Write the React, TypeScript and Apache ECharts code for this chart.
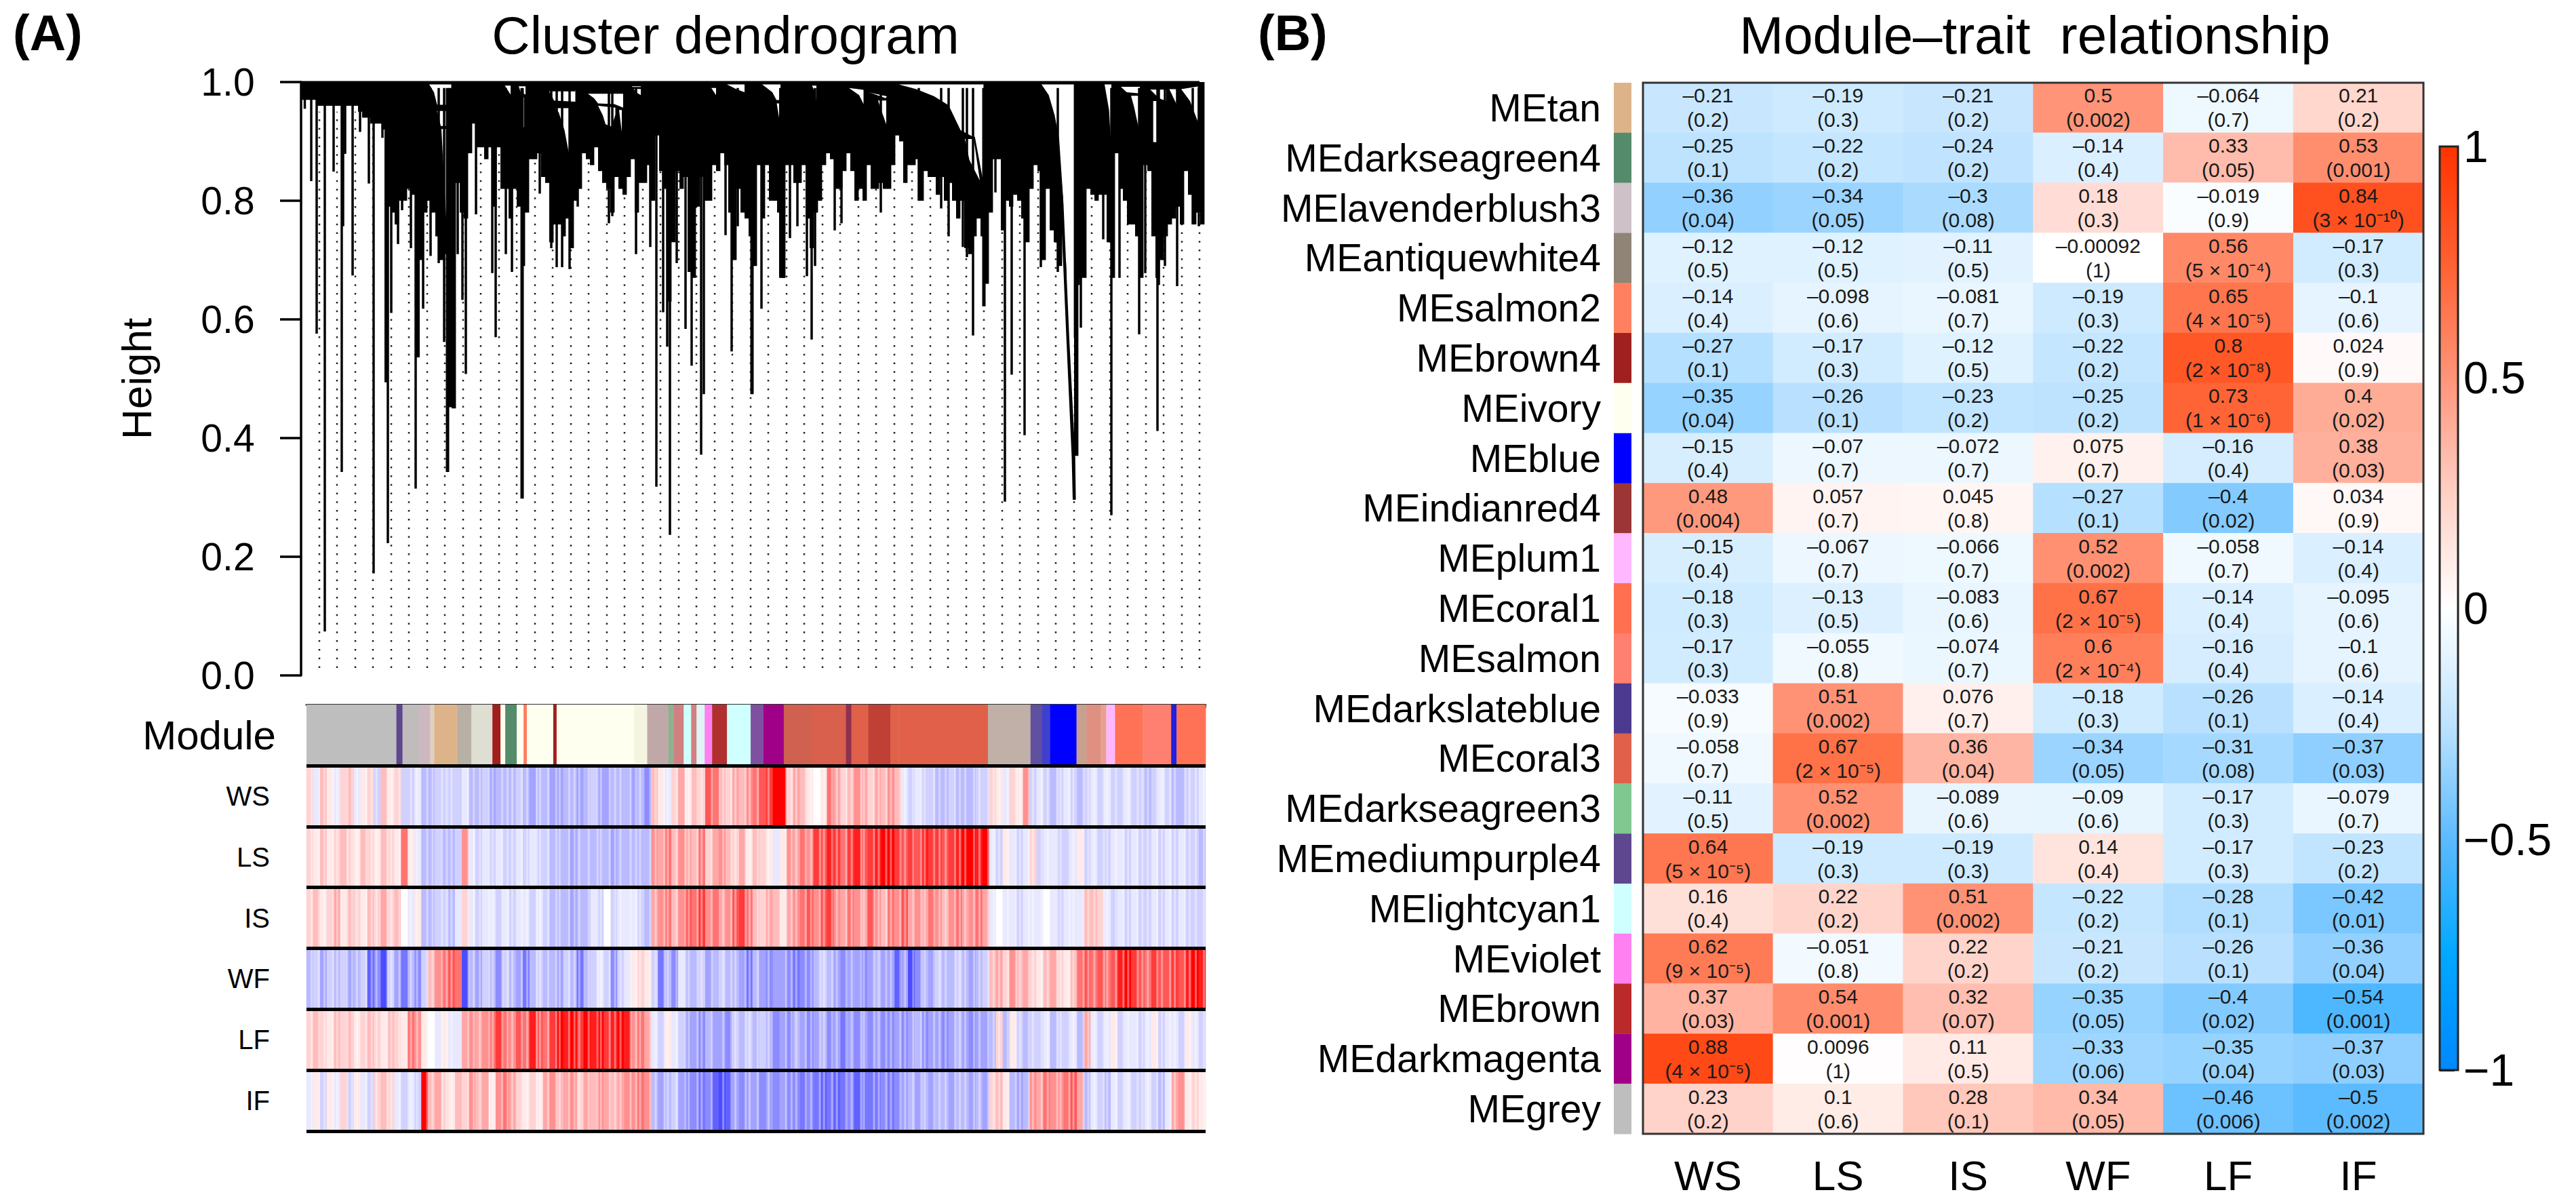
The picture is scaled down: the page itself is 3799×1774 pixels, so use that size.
import React, { useEffect, useRef } from "react";
import * as echarts from "echarts";

const FONT = "'Liberation Sans', Arial, sans-serif";

const traits = ["WS", "LS", "IS", "WF", "LF", "IF"];
const moduleNames = ["MEtan", "MEdarkseagreen4", "MElavenderblush3", "MEantiquewhite4", "MEsalmon2", "MEbrown4", "MEivory", "MEblue", "MEindianred4", "MEplum1", "MEcoral1", "MEsalmon", "MEdarkslateblue", "MEcoral3", "MEdarkseagreen3", "MEmediumpurple4", "MElightcyan1", "MEviolet", "MEbrown", "MEdarkmagenta", "MEgrey"];
const moduleSwatches = ["#DDB48A", "#548B6B", "#CFC1C8", "#8F8476", "#FF8060", "#A02020", "#FFFFF0", "#0000FF", "#9C3535", "#FFB8FF", "#FF7050", "#FF8070", "#4B3A90", "#E0604A", "#80C890", "#5F478F", "#CFFFFF", "#FF80F0", "#BB2A2A", "#A00088", "#BEBEBE"];

const corr = [
  [-0.21, -0.19, -0.21, 0.5, -0.064, 0.21],
  [-0.25, -0.22, -0.24, -0.14, 0.33, 0.53],
  [-0.36, -0.34, -0.3, 0.18, -0.019, 0.84],
  [-0.12, -0.12, -0.11, -0.00092, 0.56, -0.17],
  [-0.14, -0.098, -0.081, -0.19, 0.65, -0.1],
  [-0.27, -0.17, -0.12, -0.22, 0.8, 0.024],
  [-0.35, -0.26, -0.23, -0.25, 0.73, 0.4],
  [-0.15, -0.07, -0.072, 0.075, -0.16, 0.38],
  [0.48, 0.057, 0.045, -0.27, -0.4, 0.034],
  [-0.15, -0.067, -0.066, 0.52, -0.058, -0.14],
  [-0.18, -0.13, -0.083, 0.67, -0.14, -0.095],
  [-0.17, -0.055, -0.074, 0.6, -0.16, -0.1],
  [-0.033, 0.51, 0.076, -0.18, -0.26, -0.14],
  [-0.058, 0.67, 0.36, -0.34, -0.31, -0.37],
  [-0.11, 0.52, -0.089, -0.09, -0.17, -0.079],
  [0.64, -0.19, -0.19, 0.14, -0.17, -0.23],
  [0.16, 0.22, 0.51, -0.22, -0.28, -0.42],
  [0.62, -0.051, 0.22, -0.21, -0.26, -0.36],
  [0.37, 0.54, 0.32, -0.35, -0.4, -0.54],
  [0.88, 0.0096, 0.11, -0.33, -0.35, -0.37],
  [0.23, 0.1, 0.28, 0.34, -0.46, -0.5],
];
const pvals = [
  ["0.2", "0.3", "0.2", "0.002", "0.7", "0.2"],
  ["0.1", "0.2", "0.2", "0.4", "0.05", "0.001"],
  ["0.04", "0.05", "0.08", "0.3", "0.9", "3 × 10⁻¹⁰"],
  ["0.5", "0.5", "0.5", "1", "5 × 10⁻⁴", "0.3"],
  ["0.4", "0.6", "0.7", "0.3", "4 × 10⁻⁵", "0.6"],
  ["0.1", "0.3", "0.5", "0.2", "2 × 10⁻⁸", "0.9"],
  ["0.04", "0.1", "0.2", "0.2", "1 × 10⁻⁶", "0.02"],
  ["0.4", "0.7", "0.7", "0.7", "0.4", "0.03"],
  ["0.004", "0.7", "0.8", "0.1", "0.02", "0.9"],
  ["0.4", "0.7", "0.7", "0.002", "0.7", "0.4"],
  ["0.3", "0.5", "0.6", "2 × 10⁻⁵", "0.4", "0.6"],
  ["0.3", "0.8", "0.7", "2 × 10⁻⁴", "0.4", "0.6"],
  ["0.9", "0.002", "0.7", "0.3", "0.1", "0.4"],
  ["0.7", "2 × 10⁻⁵", "0.04", "0.05", "0.08", "0.03"],
  ["0.5", "0.002", "0.6", "0.6", "0.3", "0.7"],
  ["5 × 10⁻⁵", "0.3", "0.3", "0.4", "0.3", "0.2"],
  ["0.4", "0.2", "0.002", "0.2", "0.1", "0.01"],
  ["9 × 10⁻⁵", "0.8", "0.2", "0.2", "0.1", "0.04"],
  ["0.03", "0.001", "0.07", "0.05", "0.02", "0.001"],
  ["4 × 10⁻⁵", "1", "0.5", "0.06", "0.04", "0.03"],
  ["0.2", "0.6", "0.1", "0.05", "0.006", "0.002"],
];

// Trait stripes, tenths of a unit, one value per stripe
const stripWS = [2,-1,3,1,-1,2,3,-1,1,2,-2,3,1,2,-2,-2,-1,-3,-3,-2,-2,-2,-2,-1,-3,-3,-2,-4,-3,-3,-3,-2,-3,-4,-3,-3,-4,-4,-3,-3,-4,-3,-2,-4,-4,-3,-3,-3,-4,-3,-5,3,1,-1,2,4,1,3,2,7,6,3,2,4,3,5,6,7,8,10,10,2,4,3,1,0,1,6,4,2,3,5,4,2,4,3,5,3,-1,-2,-1,-2,-2,-3,-3,-2,-3,-3,-3,-2,-2,2,1,-1,2,1,5,-2,-1,-2,-3,-2,-1,-2,-3,-2,-1,-2,-1,-2,-2,-1,-2,-2,-3,-2,-1,-2,-3,-3,-2,-2,-1];
const stripLS = [2,1,3,1,2,3,2,1,3,2,1,3,2,1,6,1,-1,-3,-3,-2,-3,-3,-2,5,-1,-2,-1,-2,-1,-2,-2,-1,-2,-1,-2,-2,-3,-3,-3,-4,-3,-3,-3,-3,-3,-4,-3,-3,-3,-3,-3,5,4,6,3,5,4,3,6,2,4,5,3,2,4,1,3,2,1,-1,1,5,4,6,5,8,7,9,8,6,8,9,7,8,9,10,10,8,7,8,7,9,8,8,7,8,9,10,10,9,10,-1,-2,1,-1,-2,-1,2,-2,-1,-1,-2,-2,-1,1,-2,-1,-2,-2,-1,-1,-2,-1,-2,-2,-1,-2,-1,-2,-1,-2,-2,-3];
const stripIS = [2,3,1,2,4,1,3,2,1,3,2,4,2,3,0,-1,1,-3,-3,-2,-2,-3,-1,2,-1,-2,-1,-1,-2,-1,-2,-1,-1,-2,-1,-2,-3,-3,-3,-4,-3,-3,-1,-2,0,-2,-1,-1,-1,-2,-3,4,5,6,3,5,7,6,8,5,6,4,5,7,8,6,3,2,4,3,1,4,5,6,7,5,7,8,5,4,6,5,4,7,5,3,6,5,7,4,5,4,6,5,3,5,6,4,5,6,4,-1,0,-1,-1,-2,-1,-1,-1,0,-1,-2,-1,-1,-1,3,3,2,-1,-2,-1,-2,-1,-2,-2,-1,-2,-1,-2,-1,-2,-2,-2];
const stripWF = [-3,-2,-4,-2,-3,-2,-4,-3,-2,-7,-5,-8,-2,-4,-6,-3,-5,-2,3,5,6,7,6,-8,-3,-4,-2,-3,-5,-2,-3,-4,-6,-3,-2,-3,-3,-4,-2,-3,-6,-3,-2,-1,-2,-5,-2,-1,1,2,1,-2,-6,-3,-5,-1,-3,-3,-2,-4,-3,-2,-3,-3,-4,-6,-3,-4,-5,-4,-4,-5,-6,-5,-5,-3,-2,-3,-4,-5,-4,-4,-5,-4,-3,-4,-4,-7,-4,-8,-5,-3,-4,-2,-3,-3,-2,-3,-4,-3,-2,3,4,2,5,3,4,2,1,3,4,2,1,3,6,7,6,7,6,7,9,10,8,7,6,8,7,7,8,7,9,10,9];
const stripLF = [2,3,2,1,3,2,3,1,2,3,2,1,3,2,1,6,5,1,0,-1,1,-1,-1,4,5,4,5,6,8,6,5,7,6,9,7,6,8,10,9,10,8,10,9,10,8,9,10,9,5,6,4,-1,-2,1,-1,-2,-4,-4,-5,-3,-4,-4,-5,-2,-3,-2,-3,-2,-3,-5,-4,-5,-3,-4,-5,-4,-3,-5,-4,-6,-4,-5,-4,-5,-4,-5,-5,-4,-5,-4,-3,-5,-4,-4,-5,-4,-3,-4,-5,-4,-4,-3,2,-3,1,-2,-3,-2,-2,-1,-3,-2,-2,-1,-3,4,-1,-2,-1,1,-2,-1,-1,-2,-1,1,-2,-1,-1,-2,1,-1,-2];
const stripIF = [-1,1,-2,1,-1,2,-2,1,-1,-2,2,3,2,-1,-2,-1,-2,10,3,4,2,1,3,2,5,3,4,1,5,6,4,2,1,2,1,4,5,3,4,5,2,4,3,5,4,3,4,5,5,6,5,-3,-4,-3,-2,-4,-5,-5,-6,-5,-7,-8,-7,-4,-5,-4,-4,-5,-4,-5,-4,-5,-5,-6,-5,-6,-7,-6,-7,-6,-5,-7,-6,-6,-6,-5,-6,-5,-4,-3,-4,-3,-4,-3,-3,-4,-3,-3,-4,-3,-4,2,3,1,-3,-4,-3,5,4,6,5,5,6,7,4,-3,-1,-2,-3,-1,-2,-1,-2,-2,-1,-2,-3,-1,4,5,1,2,1];
const traitStrips = [stripWS, stripLS, stripIS, stripWF, stripLF, stripIF];
// Thin pale genes running across the stripes
const paleLines = [0.6,1.7,2.5,3.8,4.4,5.9,6.6,7.3,8.7,9.5,10.2,11.8,12.4,13.6,15.3,16.2,17.7,18.5,19.9,20.6,21.3,23.8,24.6,25.5,26.9,27.4,28.8,29.6,30.3,31.7,32.5,33.9,34.4,35.6,36.8,37.3,38.7,39.5,40.2,41.6,42.9,43.4,44.7,45.5,46.3,47.8,48.6,49.2,50.7,51.5,52.8,53.3,54.6,55.9,56.4,57.7,58.3,59.8,61.5,62.7,63.3,64.8,65.4,66.6,68.2,70.8,71.6,72.3,73.7,74.5,75.8,76.4,77.6,78.3,79.7,80.5,81.9,82.3,83.8,84.5,85.6,86.3,87.7,88.4,89.6,90.8,91.3,92.7,93.5,94.4,95.8,96.5,97.3,98.6,99.4,100.7,101.5,102.3,103.6,104.8,105.4,106.7,107.3,108.6,109.5,110.9,111.4,112.7,113.3,114.8,115.5,116.4,117.8,118.3,119.6,120.7,121.4,122.8,123.5,124.3,125.7,126.4,127.6,128.3,129.8,130.5,131.4,132.6];

// Module colour blocks along the gene order
const moduleStarts = [0,13.3,14.2,16.8,18.3,18.9,22.3,24.4,27.5,28.7,29.4,31.1,32.1,32.6,36.5,37,48.5,50.4,53.5,54.3,55.8,56.9,57.7,58.9,60,62.2,65.7,67.6,70.6,74.8,79.8,80.6,83.1,86.4,87.6,100.8,107.1,108.8,110,113.9,115.4,117.5,118.3,119.6,123.7,127.9,128.7];
const moduleEnd = 133;
const moduleColors = ["#BEBEBE","#5D478F","#C0BCBC","#CDB8C0","#E0D0C0","#DDB48A","#B8AFA5","#DEDED2","#A02020","#FFFFF0","#548B6B","#FFFFF0","#FF8060","#FFFFF0","#A02020","#FFFFF0","#F4F4E0","#C0A8A8","#90B090","#D08080","#CFFFFF","#D08080","#DFF4F4","#FF80F0","#B03030","#CFFFFF","#8050A0","#A00088","#D06050","#D8604C","#903050","#E0604A","#C04035","#E06048","#E0604A","#C0B0A8","#6050A0","#4040D0","#0000FF","#C8A090","#E09080","#E8A090","#FFB8FF","#FF7256","#FF8070","#2020E0","#FF7256"];

// Dendrogram: lower edge of the dense mass, height in percent, one value per 6 ranks
const dendroBottoms = [97,97,97,97,96,96,96,96,96,96,96,96,96,96,95,94,94,93,93,93,92,79,78,76,80,80,82,81,74,70,78,80,78,74,70,71,57,45,83,78,77,88,93,89,89,87,89,79,89,82,82,77,82,79,69,78,87,87,88,84,83,73,76,76,74,77,72,80,82,88,87,86,89,85,83,82,78,84,82,81,84,87,78,83,83,86,80,91,85,82,63,73,85,82,84,68,67,79,84,80,80,86,85,88,86,78,70,82,78,77,74,69,86,77,86,80,80,78,67,86,86,83,83,86,77,72,78,80,86,88,87,82,82,85,88,85,80,82,80,86,82,82,83,82,82,86,91,90,83,86,86,87,80,85,84,84,81,84,80,83,80,77,80,72,71,74,77,74,66,78,87,87,75,80,79,81,80,77,73,82,86,85,70,82,75,73,69,80,67,57,37,67,67,82,81,80,81,81,73,67,88,82,80,76,76,74,67,86,85,74,67,70,74,76,77,79,76,85,81,76,78,76];

// Single long branches: rank, lowest height, optional width
const dendroSpikes = [[5.5,.955],[15,.833],[23,.576],[35,.074],[48,.849],[60,.343],[62,.757],[65,.879],[76,.674],[87,.916],[100,.829],[107,.172],[120,.906],[126,.494,6],[128,.223],[133,.611],[143,.727],[149,.784],[162,.72],[169,.315],[172,.536,6],[180,.618],[191,.707],[203,.695],[216,.343,5],[211,.562],[221,.452,7],[231,.71],[238,.633],[243,.508],[258,.777],[282,.678],[287,.57],[302,.71],[311,.68],[326,.298,5],[352,.812],[369,.72],[377,.688],[385,.688],[396,.685],[408,.79],[454,.762],[459,.774],[494,.71],[515,.722],[524,.318],[534,.612],[540,.554],[544,.237],[554,.695],[567,.584],[576,.522],[590,.372],[594,.474],[626,.742],[635,.546],[644,.757],[665,.474,5],[679,.618],[709,.67,8],[721,.737],[732,.757],[746,.673],[753,.566],[758,.69],[787,.75],[797,.762],[855,.78],[911,.8],[944,.787],[955,.74],[976,.722],[982,.705],[991,.573],[1007,.622,5],[1024,.814],[1038,.293],[1048,.507],[1067,.405],[1091,.688],[1116,.68],[1146,.658,5],[1150,.586],[1183,.735],[1195,.27],[1207,.67],[1236,.575],[1245,.678],[1263,.412],[1265,.658],[1274,.69],[1292,.656],[1315,.76],[1324,.757]];

// Gaps between branches at the top of the tree: outline as rank, height %
const dendroGaps = [
  [[189,99.6],[221.5,99.6],[221.5,96],[201,96],[196,98.3]],
  [[200,95.3],[221.5,95.3],[221.5,92.6],[206,92.6],[203,94.1]],
  [[207,92.1],[221.5,92.1],[221.5,64.1],[220,64.1]],
  [[300.5,99.4],[309,99.4],[309,97.9]],
  [[321,99.3],[331,99.3],[331,97.9],[324,98.3]],
  [[324,97.4],[329,97.4],[329,92.4],[326.5,92.4]],
  [[365,98.6],[404.5,98.6],[404.5,96.7],[373,96.9],[369,97.8]],
  [[374.6,95.6],[395,95.6],[396,87.4],[388.5,91.9],[380,94.9]],
  [[421,98.2],[475,98.2],[475,95.7],[462,96.3],[438,96.4],[432,97.3]],
  [[438,96],[463.5,95.7],[463.5,94.5],[458,92.5],[449,92.9],[445,94.4]],
  [[469,95.3],[473,95.3],[473,91.6]],
  [[488,99.3],[501,99.3],[501,97.8],[494,98.3]],
  [[628,99.6],[654,99.6],[654,98.3],[642,98.8]],
  [[605,99],[612,99],[612,97.8]],
  [[680,99.6],[707,99.6],[707,96.8],[701.5,96.9],[695,98.3]],
  [[701.5,96.4],[708,96.4],[707,92.6]],
  [[753.6,99.4],[760,99.4],[760,96.8],[758,98.3]],
  [[808,99],[829.5,98.7],[829.5,96.3],[823,97.8]],
  [[836,98.3],[864,97.6],[862,97.3],[842.5,98.1]],
  [[851,96.9],[863,96.9],[863,92.9],[855.5,95.3]],
  [[881.5,99.6],[1006.4,99.6],[1006.4,83],[994,90.6],[972.6,91.9],[955,96.1],[933.6,97.6],[907.5,98.8]],
  [[979,90.4],[992,90.4],[1001,83.4],[985.6,86.9]],
  [[1092,99.6],[1139.6,99.6],[1139.6,36.8],[1133,56.7],[1124.4,79.5],[1118,90.4],[1111.4,94.4],[1102.7,97.8]],
  [[1185,99.6],[1195,99.6],[1195,88.4],[1191.6,95.3]],
  [[1209,99.2],[1237,99.2],[1237,98.1],[1217.6,98.3]],
  [[1251,98.9],[1276,98.9],[1276,96.8],[1265,97.3]],
  [[1256.7,96.8],[1264.5,96.8],[1264.5,89.6],[1256.7,89.9]],
  [[1224,97.7],[1235,97.7],[1235,92.4],[1228.5,95.8]],
  [[1280.5,98.8],[1291,98.8],[1291,96.3]],
  [[1298,98.8],[1324,99.3],[1324,92.9],[1311,96.8]],
];
const dendroWedges = [
  [[1115.7,91.4],[1124.4,79.5],[1133,56.7],[1141.7,36.8],[1142.6,29.6],[1138,29.6],[1136.5,36.8],[1128.7,56.7]],
];
// Merge lines: rank, height %, rank, height %
const dendroMerges = [[0,100,1325,100],[200,96,221.5,96],[200,95.3,221.5,95.3],[206,92.4,221.5,92.4],[365,98.6,404.5,98.6],[382,99,501,99],[421,98.2,475,98.2],[701,96.8,707,96.8],[979,90.6,994,90.6],[1256.7,89.7,1264.5,89.7],[1251,98.9,1276,98.9],[1324,99.4,1324,92.9]];
const guideRanks = [27,53,80,106,133,159,186,212,239,265,292,318,345,371,398,424,451,477,504,530,557,583,610,636,663,689,716,742,769,795,822,848,875,901,928,954,981,1007,1034,1060,1087,1113,1140,1166,1193,1219,1246,1272,1299,1325];

const heatColors = ["#0088FF", "#00A8FF", "#5CBAFF", "#BDE3FF", "#FFFFFF", "#FFCFC4", "#FF9478", "#FF6030", "#FF3300"];
const stripColors = ["#2020FF", "#8C8CFF", "#FFFFFF", "#FF9090", "#FF0000"];

const minusText = (v: number) => String(v).replace("-", "–");
const axisOff = { show: false };

function buildOption() {
  const heatData: number[][] = [];
  corr.forEach((row, y) => row.forEach((v, x) => heatData.push([x, y, v])));
  const stripData: number[][] = [];
  traitStrips.forEach((row, y) => row.forEach((v, x) => stripData.push([x, y, v / 10])));
  const stripIdx = traitStrips[0].map((_, i) => String(i));

  return {
    animation: false,
    backgroundColor: "#fff",
    textStyle: { fontFamily: FONT, color: "#000" },
    grid: [
      { left: 444, top: 121, width: 1325, height: 875 },
      { left: 452, top: 1039, width: 1326, height: 90 },
      { left: 452, top: 1129, width: 1326, height: 539 },
      { left: 2380, top: 122, width: 26, height: 1550 },
      { left: 2423, top: 122, width: 1151, height: 1550, show: true, z: 5, borderColor: "#333", borderWidth: 3, backgroundColor: "transparent" },
      { left: 3598, top: 216, width: 27, height: 1362, show: true, z: 5, borderColor: "#222", borderWidth: 3, backgroundColor: "transparent" },
    ],
    xAxis: [
      { gridIndex: 0, type: "value", min: 0, max: 1325, ...axisOff },
      { gridIndex: 1, type: "value", min: 0, max: 133, position: "top", axisLine: { show: true, lineStyle: { color: "#333", width: 3 } }, axisTick: axisOff, axisLabel: axisOff, splitLine: axisOff },
      { gridIndex: 2, type: "category", data: stripIdx, ...axisOff },
      { gridIndex: 3, type: "category", data: ["module"], ...axisOff },
      { gridIndex: 4, type: "category", data: traits, axisLine: axisOff, axisTick: axisOff, axisLabel: { interval: 0, fontSize: 62, margin: 30, color: "#000", fontFamily: FONT } },
      { gridIndex: 5, type: "value", min: 0, max: 1, ...axisOff },
    ],
    yAxis: [
      { gridIndex: 0, type: "value", min: 0, max: 1, interval: 0.2, offset: 51.4, axisLine: { show: true, lineStyle: { color: "#000", width: 3.5 } }, axisTick: { show: true, length: 31, lineStyle: { color: "#000", width: 3.5 } }, axisLabel: { fontSize: 57, margin: 17, color: "#000", fontFamily: FONT, formatter: (v: number) => v.toFixed(1) }, splitLine: axisOff,
        name: "Height", nameLocation: "middle", nameGap: 160, nameRotate: 90, nameTextStyle: { fontSize: 62, color: "#000", fontFamily: FONT } },
      { gridIndex: 1, type: "category", data: ["Module"], axisLine: axisOff, axisTick: axisOff, axisLabel: { interval: 0, fontSize: 60, margin: 45, color: "#000", fontFamily: FONT } },
      { gridIndex: 2, type: "category", data: traits, inverse: true, z: 10, axisLine: axisOff, axisTick: axisOff, axisLabel: { interval: 0, fontSize: 40, margin: 54, color: "#000", fontFamily: FONT }, splitLine: { show: true, lineStyle: { color: "#000", width: 5 } } },
      { gridIndex: 3, type: "category", data: moduleNames, inverse: true, axisLine: axisOff, axisTick: axisOff, axisLabel: { interval: 0, fontSize: 57, margin: 19, color: "#000", fontFamily: FONT } },
      { gridIndex: 4, type: "category", data: moduleNames, inverse: true, ...axisOff },
      { gridIndex: 5, type: "value", min: -1, max: 1, interval: 0.5, position: "right", axisLine: axisOff, axisTick: { show: true, length: 22, lineStyle: { color: "#000", width: 3 } }, axisLabel: { fontSize: 66, margin: 8, color: "#000", fontFamily: FONT, formatter: (v: number) => (v < 0 ? "−" + Math.abs(v) : String(v)) }, splitLine: axisOff },
    ],
    visualMap: [
      { show: false, type: "continuous", seriesIndex: 9, dimension: 2, min: -1, max: 1, inRange: { color: heatColors } },
      { show: false, type: "continuous", seriesIndex: 7, dimension: 2, min: -1, max: 1, inRange: { color: stripColors } },
    ],
    series: [
      // 0 guides
      { type: "custom", xAxisIndex: 0, yAxisIndex: 0, clip: false, data: guideRanks.map((r) => [r]), silent: true,
        renderItem: (_p: any, api: any) => {
          const a = api.coord([api.value(0), 0.0126]);
          const b = api.coord([api.value(0), 0.95]);
          const c = api.coord([api.value(0) + 9, -0.049]);
          return { type: "group", children: [
            { type: "line", shape: { x1: a[0], y1: a[1], x2: b[0], y2: b[1] }, style: { stroke: "#222", lineWidth: 2.5, lineDash: [2.5, 10.3] } },
            { type: "line", shape: { x1: c[0], y1: c[1], x2: c[0], y2: c[1] + 5 }, style: { stroke: "#444", lineWidth: 2 } },
          ] };
        } },
      // 1 mass
      { type: "custom", xAxisIndex: 0, yAxisIndex: 0, data: dendroBottoms.map((b, i) => [i * 6, b / 100]), silent: true,
        renderItem: (_p: any, api: any) => {
          const a = api.coord([api.value(0), 1]);
          const b = api.coord([api.value(0) + 6, api.value(1)]);
          return { type: "rect", shape: { x: a[0], y: a[1], width: b[0] - a[0] + 0.4, height: b[1] - a[1] }, style: { fill: "#000" } };
        } },
      // 2 gaps
      { type: "custom", xAxisIndex: 0, yAxisIndex: 0, data: dendroGaps.map((_, i) => [dendroGaps[i][0][0], dendroGaps[i][0][1] / 100]), silent: true,
        renderItem: (p: any, api: any) => ({ type: "polygon", shape: { points: dendroGaps[p.dataIndex].map((q) => api.coord([q[0], q[1] / 100])) }, style: { fill: "#fff" } }) },
      // 3 wedges
      { type: "custom", xAxisIndex: 0, yAxisIndex: 0, data: dendroWedges.map((w) => [w[0][0], w[0][1] / 100]), silent: true,
        renderItem: (p: any, api: any) => ({ type: "polygon", shape: { points: dendroWedges[p.dataIndex].map((q) => api.coord([q[0], q[1] / 100])) }, style: { fill: "#000" } }) },
      // 4 spikes
      { type: "custom", xAxisIndex: 0, yAxisIndex: 0, data: dendroSpikes.map((s) => [s[0], s[1], s[2] || 3.5]), silent: true,
        renderItem: (_p: any, api: any) => {
          const a = api.coord([api.value(0), 0.99]);
          const b = api.coord([api.value(0), api.value(1)]);
          return { type: "line", shape: { x1: a[0], y1: a[1], x2: b[0], y2: b[1] }, style: { stroke: "#000", lineWidth: api.value(2) } };
        } },
      // 5 merges
      { type: "custom", xAxisIndex: 0, yAxisIndex: 0, clip: false, data: dendroMerges, silent: true,
        renderItem: (_p: any, api: any) => {
          const a = api.coord([api.value(0), api.value(1) / 100]);
          const b = api.coord([api.value(2), api.value(3) / 100]);
          return { type: "line", shape: { x1: a[0], y1: a[1], x2: b[0], y2: b[1] }, style: { stroke: "#000", lineWidth: 3 } };
        } },
      // 6 module strip
      { type: "custom", xAxisIndex: 1, yAxisIndex: 1, data: moduleStarts.map((s, i) => [s, moduleStarts[i + 1] ?? moduleEnd, 0]), silent: true,
        renderItem: (p: any, api: any) => {
          const a = api.coord([api.value(0), 0]);
          const b = api.coord([api.value(1), 0]);
          const size = api.size([0, 1]);
          return { type: "rect", shape: { x: a[0], y: a[1] - size[1] / 2, width: b[0] - a[0] + 0.4, height: size[1] }, style: { fill: moduleColors[p.dataIndex] } };
        } },
      // 7 trait strips
      { type: "heatmap", xAxisIndex: 2, yAxisIndex: 2, data: stripData, silent: true, progressive: 0 },
      // 8 side swatches
      { type: "custom", xAxisIndex: 3, yAxisIndex: 3, data: moduleNames.map((_, y) => [0, y]), silent: true,
        renderItem: (p: any, api: any) => {
          const c = api.coord([api.value(0), api.value(1)]);
          const size = api.size([1, 1]);
          return { type: "rect", shape: { x: c[0] - size[0] / 2, y: c[1] - size[1] / 2, width: size[0], height: size[1] + 0.4 }, style: { fill: moduleSwatches[p.dataIndex] } };
        } },
      // 9 correlation
      { type: "heatmap", xAxisIndex: 4, yAxisIndex: 4, data: heatData, silent: true, progressive: 0,
        label: { show: true, fontSize: 30, lineHeight: 36, color: "#1a1a1a", fontFamily: FONT, formatter: (p: any) => minusText(p.value[2]) + "\n(" + pvals[p.value[1]][p.value[0]] + ")" } },
      // 10 colour bar
      { type: "custom", xAxisIndex: 5, yAxisIndex: 5, data: [[0, -1]], silent: true,
        renderItem: (_p: any, api: any) => {
          const a = api.coord([0, 1]);
          const b = api.coord([1, -1]);
          return { type: "rect", shape: { x: a[0], y: a[1], width: b[0] - a[0], height: b[1] - a[1] }, style: {
            fill: new echarts.graphic.LinearGradient(0, 0, 0, 1, heatColors.slice().reverse().map((c, i, arr) => ({ offset: i / (arr.length - 1), color: c }))) } };
        } },
      // 11 pale lines across the trait strips
      { type: "custom", xAxisIndex: 1, yAxisIndex: 1, clip: false, data: paleLines.map((x) => [x, 0]), silent: true,
        renderItem: (_p: any, api: any) => {
          const c = api.coord([api.value(0), 0]);
          return { type: "rect", shape: { x: c[0], y: c[1] + 45, width: 3, height: 539 }, style: { fill: "#fff", opacity: 0.38 } };
        } },
    ],
    graphic: [
      { type: "text", x: 1070, y: 91, style: { text: "Cluster dendrogram", font: `78px ${FONT}`, fill: "#000", textAlign: "center", textVerticalAlign: "bottom" } },
      { type: "text", x: 3001, y: 91, style: { text: "Module–trait  relationship", font: `78px ${FONT}`, fill: "#000", textAlign: "center", textVerticalAlign: "bottom" } },
      { type: "text", x: 19, y: 85, style: { text: "(A)", font: `bold 74px ${FONT}`, fill: "#000", textAlign: "left", textVerticalAlign: "bottom" } },
      { type: "text", x: 1855, y: 85, style: { text: "(B)", font: `bold 74px ${FONT}`, fill: "#000", textAlign: "left", textVerticalAlign: "bottom" } },
    ],
  };
}

export default function App() {
  const ref = useRef<HTMLDivElement>(null);
  useEffect(() => {
    document.body.style.margin = "0";
    const chart = echarts.init(ref.current!, undefined, { renderer: "svg" });
    chart.setOption(buildOption() as any);
    return () => chart.dispose();
  }, []);
  return <div ref={ref} style={{ width: 3799, height: 1774, background: "#fff" }} />;
}
